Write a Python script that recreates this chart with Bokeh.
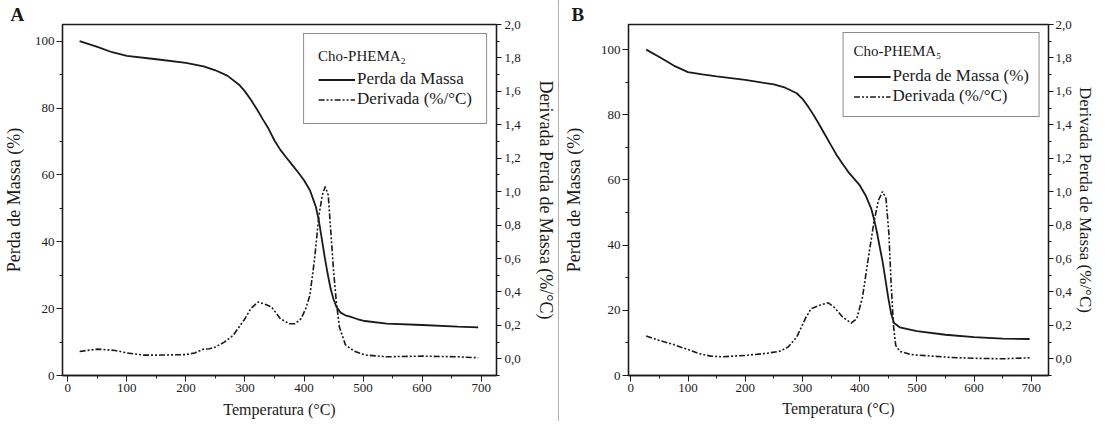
from bokeh.plotting import figure
from bokeh.models import (Range1d, LinearAxis, FixedTicker, CustomJSTickFormatter,
                          Legend, LegendItem)
from bokeh.layouts import row
from bokeh.embed import file_html
from bokeh.resources import INLINE

FONT = "Liberation Serif"

# ---------------- data: panel A (Cho-PHEMA2) ----------------
temp_mass_A = [20, 50, 75, 100, 150, 200, 230, 250, 270, 290, 300, 310, 320, 330, 340,
               350, 360, 370, 380, 390, 400, 410, 415, 420, 425, 430, 435, 440, 445,
               450, 455, 462, 470, 478, 490, 503, 540, 600, 660, 695]
mass_A = [100, 98.3, 96.7, 95.6, 94.6, 93.5, 92.5, 91.3, 89.7, 87.0, 85.0, 82.5, 79.7,
          76.7, 73.8, 70.3, 67.5, 65.2, 63.0, 60.8, 58.4, 55.4, 53.0, 50.5, 46.5, 41.0,
          35.5, 30.5, 26.0, 22.8, 20.5, 18.8, 18.0, 17.6, 16.9, 16.3, 15.5, 15.1, 14.6, 14.4]

temp_der_A = [20, 50, 80, 100, 130, 150, 200, 215, 230, 240, 250, 265, 280, 300, 310,
              322, 335, 345, 360, 375, 385, 395, 403, 410, 418, 425, 431, 436, 441,
              445, 450, 455, 460, 470, 485, 503, 540, 600, 660, 695]
der_A = [0.044, 0.058, 0.050, 0.035, 0.022, 0.022, 0.025, 0.035, 0.058, 0.060, 0.070,
         0.100, 0.140, 0.240, 0.300, 0.340, 0.325, 0.310, 0.240, 0.210, 0.210, 0.240,
         0.300, 0.380, 0.600, 0.850, 0.980, 1.030, 0.980, 0.780, 0.530, 0.330, 0.190,
         0.085, 0.045, 0.023, 0.012, 0.016, 0.012, 0.006]

# ---------------- data: panel B (Cho-PHEMA5) ----------------
temp_mass_B = [27, 50, 75, 100, 125, 150, 200, 250, 270, 290, 300, 310, 320, 330, 340,
               350, 360, 370, 380, 390, 400, 410, 420, 425, 430, 435, 440, 445, 450,
               455, 460, 470, 500, 550, 600, 650, 697]
mass_B = [100, 97.7, 95.1, 93.1, 92.4, 91.8, 90.7, 89.3, 88.3, 86.6, 84.9, 82.5, 79.8,
          76.8, 73.7, 70.6, 67.6, 65.0, 62.5, 60.4, 58.4, 55.4, 51.3, 48.0, 44.1, 39.5,
          35.0, 29.5, 23.8, 19.0, 16.1, 14.8, 13.6, 12.5, 11.8, 11.3, 11.2]

temp_der_B = [27, 50, 75, 100, 120, 140, 160, 200, 240, 260, 275, 290, 305, 315, 330,
              345, 355, 370, 385, 395, 405, 415, 425, 433, 440, 446, 451, 455, 459, 463,
              470, 490, 530, 560, 600, 650, 697]
der_B = [0.136, 0.110, 0.085, 0.055, 0.030, 0.016, 0.012, 0.020, 0.034, 0.045, 0.070,
         0.130, 0.240, 0.300, 0.320, 0.335, 0.310, 0.250, 0.214, 0.240, 0.370, 0.600,
         0.820, 0.950, 1.000, 0.960, 0.750, 0.450, 0.200, 0.080, 0.045, 0.025, 0.015,
         0.008, 0.003, 0.000, 0.006]

# ---------------- ticks ----------------
x_major = [0, 100, 200, 300, 400, 500, 600, 700]
x_minor = [50, 150, 250, 350, 450, 550, 650]
left_major = [0, 20, 40, 60, 80, 100]
left_minor = [10, 30, 50, 70, 90]
right_major = [0.0, 0.2, 0.4, 0.6, 0.8, 1.0, 1.2, 1.4, 1.6, 1.8, 2.0]
right_minor = [-0.1, 0.1, 0.3, 0.5, 0.7, 0.9, 1.1, 1.3, 1.5, 1.7, 1.9]

INK = "#1a1a1a"
DASH = "6 2 2 2 2 2"


def style_axis(ax, tick_out=6):
    ax.axis_line_color = INK
    ax.axis_line_width = 1.3
    ax.major_tick_line_color = INK
    ax.minor_tick_line_color = INK
    ax.major_tick_in = 0
    ax.major_tick_out = tick_out
    ax.minor_tick_in = 0
    ax.minor_tick_out = 3
    ax.major_label_text_font = FONT
    ax.major_label_text_font_size = "13px"
    ax.major_label_text_color = INK
    ax.axis_label_text_font = FONT
    ax.axis_label_text_font_style = "normal"
    ax.axis_label_text_color = INK


def make_panel(letter, letter_offset, legend_title, mass_label,
               t_m, m, t_d, d, width, height, borders, xr, ymax,
               left_std, right_std, right_lbl_std, right_title_size, x_std,
               leg_pad, leg_title_std, leg_margin, shadow):
    p = figure(width=width, height=height, output_backend="svg", toolbar_location=None,
               x_range=Range1d(*xr), y_range=Range1d(0, ymax),
               min_border_left=borders[0], min_border_right=borders[1],
               min_border_top=borders[2], min_border_bottom=borders[3],
               background_fill_color="white", border_fill_color="white",
               styles={"box-shadow": shadow})
    p.extra_y_ranges = {"der": Range1d(-0.1, 2.0)}
    p.grid.visible = False
    p.outline_line_color = INK
    p.outline_line_width = 1.3

    # panel letter as the figure title
    p.title.text = letter
    p.title.align = "left"
    p.title.offset = letter_offset
    p.title.standoff = 0
    p.title.text_font = FONT
    p.title.text_font_size = "19px"
    p.title.text_font_style = "bold"
    p.title.text_color = INK

    # bottom axis
    xa = p.xaxis[0]
    xa.ticker = FixedTicker(ticks=x_major, minor_ticks=x_minor)
    xa.axis_label = "Temperatura (°C)"
    xa.axis_label_text_font_size = "16px"
    xa.axis_label_standoff = x_std
    xa.major_label_standoff = 2
    style_axis(xa)

    # left axis
    ya = p.yaxis[0]
    ya.ticker = FixedTicker(ticks=left_major, minor_ticks=left_minor)
    ya.axis_label = "Perda de Massa (%)"
    ya.axis_label_text_font_size = "18px"
    ya.axis_label_standoff = left_std
    ya.major_label_standoff = 2
    style_axis(ya)

    # right axis
    ra = LinearAxis(y_range_name="der",
                    ticker=FixedTicker(ticks=right_major, minor_ticks=right_minor),
                    formatter=CustomJSTickFormatter(
                        code="return tick.toFixed(1).replace('.', ',');"),
                    axis_label="Derivada Perda de Massa (%/°C)")
    style_axis(ra, tick_out=5)
    ra.axis_label_text_font_size = right_title_size
    ra.axis_label_standoff = right_std
    ra.major_label_standoff = right_lbl_std
    p.add_layout(ra, "right")

    r1 = p.line(t_m, m, line_color=INK, line_width=1.8)
    r2 = p.line(t_d, d, line_color=INK, line_width=1.6, line_dash=DASH,
                y_range_name="der")

    leg = Legend(items=[LegendItem(label=mass_label, renderers=[r1]),
                        LegendItem(label="Derivada (%/°C)", renderers=[r2])],
                 title=legend_title, location="top_right")
    leg.title_text_font = FONT
    leg.title_text_font_size = "15px"
    leg.title_text_font_style = "normal"
    leg.title_text_color = INK
    leg.title_standoff = leg_title_std
    leg.label_text_font = FONT
    leg.label_text_font_size = "17px"
    leg.label_text_color = INK
    leg.glyph_width = 37
    leg.glyph_height = 19
    leg.label_height = 19
    leg.label_standoff = 2
    leg.spacing = 0
    leg.padding = leg_pad
    leg.margin = leg_margin
    leg.border_line_color = INK
    leg.border_line_width = 1
    leg.background_fill_color = "white"
    leg.background_fill_alpha = 1.0
    p.add_layout(leg)
    return p


pA = make_panel("A", -52, "Cho-PHEMA\u2082", "Perda da Massa",
                temp_mass_A, mass_A, temp_der_A, der_A,
                width=558, height=421, borders=(62, 62, 21, 46), xr=(-9, 726), ymax=105,
                left_std=8, right_std=12, right_lbl_std=3, right_title_size="18px",
                x_std=6, leg_pad=14, leg_title_std=4, leg_margin=9,
                shadow="-1px -1px 0 0 #333, 1px 0 0 0 #999")
pB = make_panel("B", -57, "Cho-PHEMA\u2085", "Perda de Massa (%)",
                temp_mass_B, mass_B, temp_der_B, der_B,
                width=539, height=421, borders=(70, 33, 24, 45), xr=(-4, 730), ymax=107.7,
                left_std=14, right_std=1, right_lbl_std=2, right_title_size="17px",
                x_std=5, leg_pad=10, leg_title_std=6, leg_margin=8,
                shadow="0 -1px 0 0 #333")

layout = row(pA, pB)

open("out.html", "w").write(file_html(layout, INLINE))
